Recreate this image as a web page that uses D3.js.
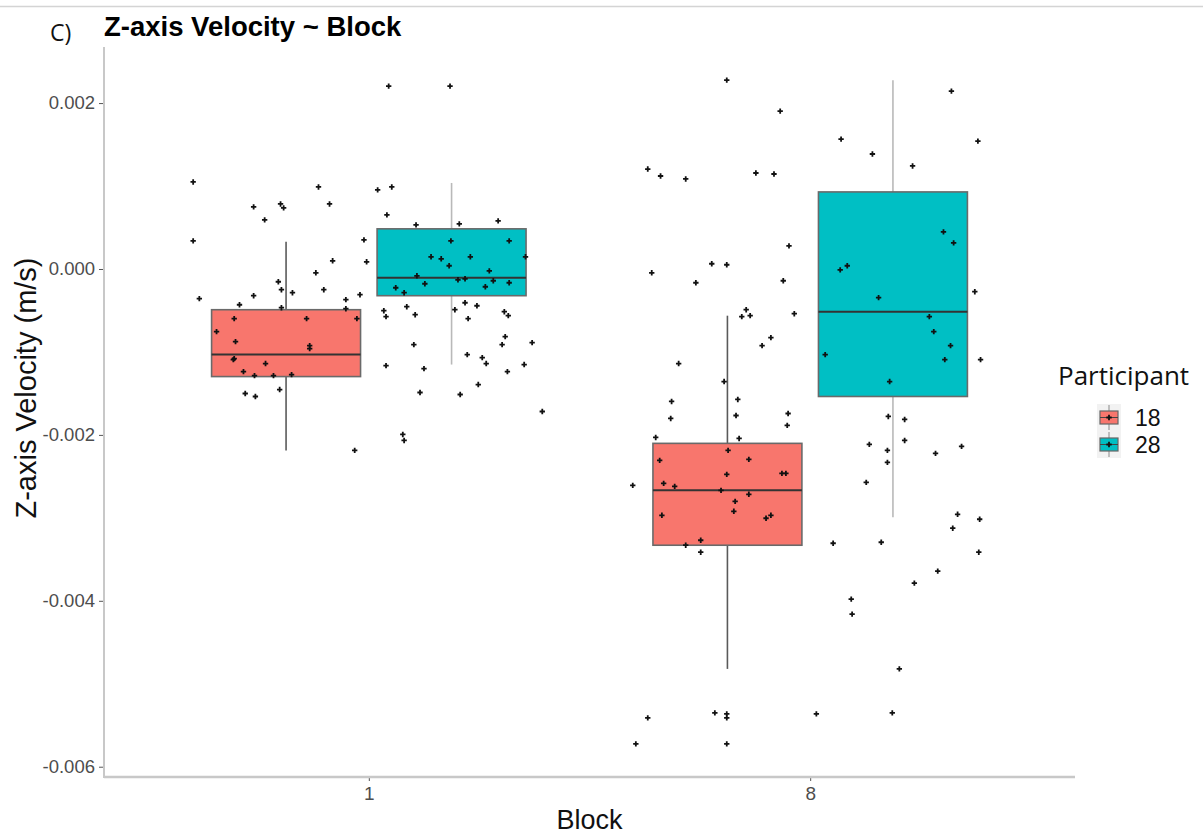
<!DOCTYPE html>
<html>
<head>
<meta charset="utf-8">
<script src="https://cdn.jsdelivr.net/npm/d3@7"></script>
<style>
  body { margin: 0; background: #fff; }
  svg { display: block; }
</style>
</head>
<body>
<script>
// ---- data -------------------------------------------------------------
const blocks = ["1", "8"];
const participants = ["18", "28"];
const participantColors = ["#F8766D", "#00BFC4"];

// Box-plot summaries, indexed [block][participant]
const whiskerLow  = [[-0.002187, -0.001152], [-0.004821, -0.002993]];
const q1          = [[-0.001297, -0.000322], [-0.003330, -0.001537]];
const medians     = [[-0.001032, -0.000106], [-0.002668, -0.000515]];
const q3          = [[-0.000491,  0.000484], [-0.002102,  0.000929]];
const whiskerHigh = [[ 0.000328,  0.001037], [-0.000563,  0.002276]];

const yTicks = [0.002, 0.000, -0.002, -0.004, -0.006];
const yTickLabels = ["0.002", "0.000", "-0.002", "-0.004", "-0.006"];

// Jittered trial observations: horizontal jitter (in block units) and velocity
const block1Jitter = [0.045,0.184,-0.398,-0.114,0.020,0.052,-0.261,-0.200,-0.193,-0.089,-0.236,0.041,0.107,0.205,0.293,-0.398,-0.011,0.186,0.318,-0.082,-0.005,0.141,0.164,0.182,0.230,0.355,-0.120,0.273,0.109,-0.205,0.127,0.202,0.218,0.282,0.318,-0.198,-0.173,-0.102,0.061,0.080,0.264,-0.384,-0.261,-0.052,-0.020,-0.293,-0.198,-0.052,-0.305,-0.141,-0.027,0.034,0.039,0.086,0.105,0.195,0.218,0.245,0.225,0.307,0.316,-0.345,-0.302,0.309,0.302,0.370,0.102,-0.134,-0.134,-0.305,-0.307,-0.234,0.223,0.257,0.266,0.039,0.125,-0.284,-0.259,-0.216,-0.175,0.314,0.352,0.248,0.116,0.207,-0.280,-0.257,-0.202,0.393,0.077,0.080,-0.032];
const block1Velocity = [0.002204,0.002204,0.001049,0.000989,0.000953,0.000989,0.000748,0.000784,0.000736,0.000784,0.000592,0.000652,0.000532,0.000544,0.000580,0.000339,0.000351,0.000339,0.000339,0.000099,0.000087,0.000147,0.000123,0.000039,0.000147,0.000147,-0.000046,-0.000022,-0.000082,-0.000154,-0.000178,-0.000130,-0.000118,-0.000142,-0.000166,-0.000250,-0.000286,-0.000250,-0.000226,-0.000286,-0.000214,-0.000358,-0.000322,-0.000370,-0.000310,-0.000431,-0.000467,-0.000479,-0.000599,-0.000599,-0.000599,-0.000503,-0.000575,-0.000455,-0.000551,-0.000491,-0.000407,-0.000443,-0.000599,-0.000515,-0.000563,-0.000755,-0.000876,-0.000816,-0.000912,-0.000888,-0.000912,-0.000924,-0.000960,-0.001080,-0.001092,-0.001140,-0.001032,-0.001068,-0.001140,-0.001165,-0.001201,-0.001237,-0.001285,-0.001285,-0.001273,-0.001237,-0.001152,-0.001393,-0.001489,-0.001513,-0.001501,-0.001537,-0.001453,-0.001718,-0.001995,-0.002067,-0.002187];

const block8Jitter = [-0.189,-0.068,0.320,0.070,0.380,0.141,0.232,-0.368,-0.339,-0.282,-0.123,-0.082,-0.048,0.302,0.325,-0.223,-0.189,-0.359,-0.259,-0.061,0.068,0.084,0.373,0.155,-0.145,-0.155,-0.136,-0.036,0.270,0.280,0.318,-0.089,-0.109,0.034,0.305,0.386,-0.298,-0.195,0.180,-0.314,-0.164,-0.316,-0.168,-0.050,-0.052,0.177,0.214,-0.350,-0.161,0.214,0.134,0.175,0.284,0.343,-0.186,-0.341,-0.139,-0.189,-0.064,-0.055,-0.332,-0.307,-0.402,-0.202,-0.139,-0.170,-0.173,-0.336,-0.100,-0.089,0.127,0.175,0.334,0.384,0.323,-0.248,-0.282,-0.248,0.052,0.161,0.382,0.289,0.236,0.093,0.095,0.202,-0.368,-0.216,-0.189,-0.189,0.014,0.186,-0.395,-0.189];
const block8Velocity = [0.002276,0.001903,0.002144,0.001566,0.001542,0.001386,0.001242,0.001205,0.001121,0.001085,0.001157,0.001145,0.000279,0.000448,0.000315,0.000063,0.000051,-0.000046,-0.000166,-0.000142,-0.000010,0.000039,-0.000274,-0.000346,-0.000491,-0.000575,-0.000563,-0.000539,-0.000575,-0.000755,-0.000924,-0.000828,-0.000924,-0.001032,-0.001092,-0.001092,-0.001140,-0.001357,-0.001357,-0.001597,-0.001573,-0.001802,-0.001766,-0.001742,-0.001886,-0.001778,-0.001814,-0.002031,-0.002043,-0.002067,-0.002115,-0.002187,-0.002223,-0.002139,-0.002187,-0.002307,-0.002295,-0.002476,-0.002464,-0.002464,-0.002584,-0.002620,-0.002608,-0.002668,-0.002716,-0.002801,-0.002921,-0.002969,-0.003005,-0.002969,-0.002572,-0.002331,-0.002957,-0.003017,-0.003125,-0.003270,-0.003330,-0.003414,-0.003306,-0.003294,-0.003414,-0.003643,-0.003787,-0.003979,-0.004160,-0.004821,-0.005411,-0.005351,-0.005363,-0.005411,-0.005363,-0.005351,-0.005724,-0.005724];

// ---- layout -----------------------------------------------------------
const W = 1203, H = 837;
const panel = { left: 104, right: 1075, top: 47, bottom: 777 };

const svg = d3.select("body").append("svg")
  .attr("width", W).attr("height", H)
  .style("font-family", "'Liberation Sans', Arial, sans-serif");

// thin frame line along the top edge
svg.append("line")
  .attr("x1", 0).attr("x2", W).attr("y1", 6.5).attr("y2", 6.5)
  .attr("stroke", "#d4d4d4").attr("stroke-width", 1.5);

// ---- scales -----------------------------------------------------------
const x = d3.scalePoint().domain(blocks)
  .range([panel.left, panel.right]).padding(0.6);
const unit = x.step();

const dodge = d3.scaleBand().domain(participants)
  .range([-0.375 * unit, 0.375 * unit])
  .paddingInner(0.1).paddingOuter(0.05);

const allValues = block1Velocity.concat(block8Velocity, whiskerLow.flat(), whiskerHigh.flat());
const [vMin, vMax] = d3.extent(allValues);
const pad = (vMax - vMin) * 0.05;
const y = d3.scaleLinear().domain([vMin - pad, vMax + pad])
  .range([panel.bottom, panel.top]);

const color = d3.scaleOrdinal().domain(participants).range(participantColors);

// ---- boxes ------------------------------------------------------------
const boxes = [];
blocks.forEach((b, bi) => participants.forEach((p, pi) => boxes.push({
  block: b, participant: p,
  lo: whiskerLow[bi][pi], q1: q1[bi][pi], med: medians[bi][pi],
  q3: q3[bi][pi], hi: whiskerHigh[bi][pi]
})));

const whiskerColor = { "18": "#5a5a5a", "28": "#b9b9b9" };

const boxG = svg.append("g").selectAll("g").data(boxes).join("g")
  .attr("transform", d => `translate(${x(d.block) + dodge(d.participant)},0)`);

boxG.append("line")
  .attr("x1", dodge.bandwidth() / 2).attr("x2", dodge.bandwidth() / 2)
  .attr("y1", d => y(d.hi)).attr("y2", d => y(d.q3))
  .attr("stroke", d => whiskerColor[d.participant]).attr("stroke-width", 1.6);
boxG.append("line")
  .attr("x1", dodge.bandwidth() / 2).attr("x2", dodge.bandwidth() / 2)
  .attr("y1", d => y(d.q1)).attr("y2", d => y(d.lo))
  .attr("stroke", d => whiskerColor[d.participant]).attr("stroke-width", 1.6);
boxG.append("rect")
  .attr("x", 0).attr("width", dodge.bandwidth())
  .attr("y", d => y(d.q3)).attr("height", d => y(d.q1) - y(d.q3))
  .attr("fill", d => color(d.participant))
  .attr("stroke", "#6a6a6a").attr("stroke-width", 1.6);
boxG.append("line")
  .attr("x1", 0).attr("x2", dodge.bandwidth())
  .attr("y1", d => y(d.med)).attr("y2", d => y(d.med))
  .attr("stroke", "#333").attr("stroke-width", 2);

// ---- jittered points --------------------------------------------------
const points = [];
block1Velocity.forEach((v, i) => points.push({ block: "1", j: block1Jitter[i], v }));
block8Velocity.forEach((v, i) => points.push({ block: "8", j: block8Jitter[i], v }));

const cross = d3.symbol().type(d3.symbolCross).size(16);
svg.append("g").selectAll("path").data(points).join("path")
  .attr("d", cross)
  .attr("transform", d => `translate(${x(d.block) + d.j * unit},${y(d.v)})`)
  .attr("fill", "#111");

// ---- axes -------------------------------------------------------------
const axisColor = "#c8c8c8";
const yAxis = svg.append("g").attr("transform", `translate(${panel.left},0)`)
  .call(d3.axisLeft(y).tickValues(yTicks)
    .tickFormat((d, i) => yTickLabels[i]).tickSize(5).tickPadding(4));
yAxis.select(".domain").remove();
yAxis.append("line").attr("x1", 0).attr("x2", 0)
  .attr("y1", panel.top).attr("y2", panel.bottom + 1)
  .attr("stroke", axisColor).attr("stroke-width", 2);
yAxis.selectAll(".tick line").attr("stroke", "#555");
yAxis.selectAll(".tick text").attr("fill", "#4d4d4d")
  .style("font-size", "18.5px").style("font-family", "'Liberation Sans', Arial, sans-serif");

const xAxis = svg.append("g").attr("transform", `translate(0,${panel.bottom})`)
  .call(d3.axisBottom(x).tickSize(4).tickPadding(6));
xAxis.select(".domain").remove();
xAxis.append("line").attr("x1", panel.left).attr("x2", panel.right)
  .attr("y1", 0).attr("y2", 0)
  .attr("stroke", axisColor).attr("stroke-width", 2.5);
xAxis.selectAll(".tick line").attr("stroke", "#555");
xAxis.selectAll(".tick text").attr("fill", "#4d4d4d")
  .style("font-size", "19px").style("font-family", "'Liberation Sans', Arial, sans-serif");

// ---- titles -----------------------------------------------------------
svg.append("text").attr("x", 50).attr("y", 41)
  .style("font-family", "'Open Sans', sans-serif").style("font-size", "23px")
  .attr("fill", "#111").text("C)");
svg.append("text").attr("x", 104).attr("y", 36)
  .style("font-size", "27.5px").style("font-weight", "bold")
  .attr("fill", "#000").text("Z-axis Velocity ~ Block");

svg.append("text")
  .attr("transform", "translate(36,388) rotate(-90)")
  .attr("text-anchor", "middle")
  .style("font-size", "29px").attr("fill", "#111")
  .text("Z-axis Velocity (m/s)");
svg.append("text")
  .attr("x", (panel.left + panel.right) / 2).attr("y", 829)
  .attr("text-anchor", "middle")
  .style("font-size", "27px").attr("fill", "#111")
  .text("Block");

// ---- legend -----------------------------------------------------------
const legend = svg.append("g").attr("transform", "translate(1058,0)");
legend.append("text").attr("x", 0).attr("y", 385)
  .style("font-family", "'Open Sans', sans-serif").style("font-size", "26px")
  .attr("fill", "#111").text("Participant");

const keyX = 39, keyW = 24, keyH = 27, keyTop = 404;
const keys = legend.selectAll("g.key").data(participants).join("g")
  .attr("class", "key")
  .attr("transform", (d, i) => `translate(${keyX},${keyTop + i * keyH})`);
keys.append("rect").attr("width", keyW).attr("height", keyH)
  .attr("fill", "#f2f2f2");
keys.append("line").attr("x1", keyW / 2).attr("x2", keyW / 2)
  .attr("y1", 1).attr("y2", keyH - 1)
  .attr("stroke", "#8a8a8a").attr("stroke-width", 1);
keys.append("rect").attr("x", 3).attr("y", 7).attr("width", keyW - 6).attr("height", 13)
  .attr("fill", d => color(d)).attr("stroke", "#666").attr("stroke-width", 1.2);
keys.append("line").attr("x1", 3).attr("x2", keyW - 3).attr("y1", 13.5).attr("y2", 13.5)
  .attr("stroke", "#444").attr("stroke-width", 1);
keys.append("path").attr("d", cross)
  .attr("transform", `translate(${keyW / 2},13.5)`).attr("fill", "#111");
keys.append("text").attr("x", keyW + 14).attr("y", keyH / 2 + 8.5)
  .style("font-size", "23px")
  .attr("fill", "#111").text(d => d);
</script>
</body>
</html>
